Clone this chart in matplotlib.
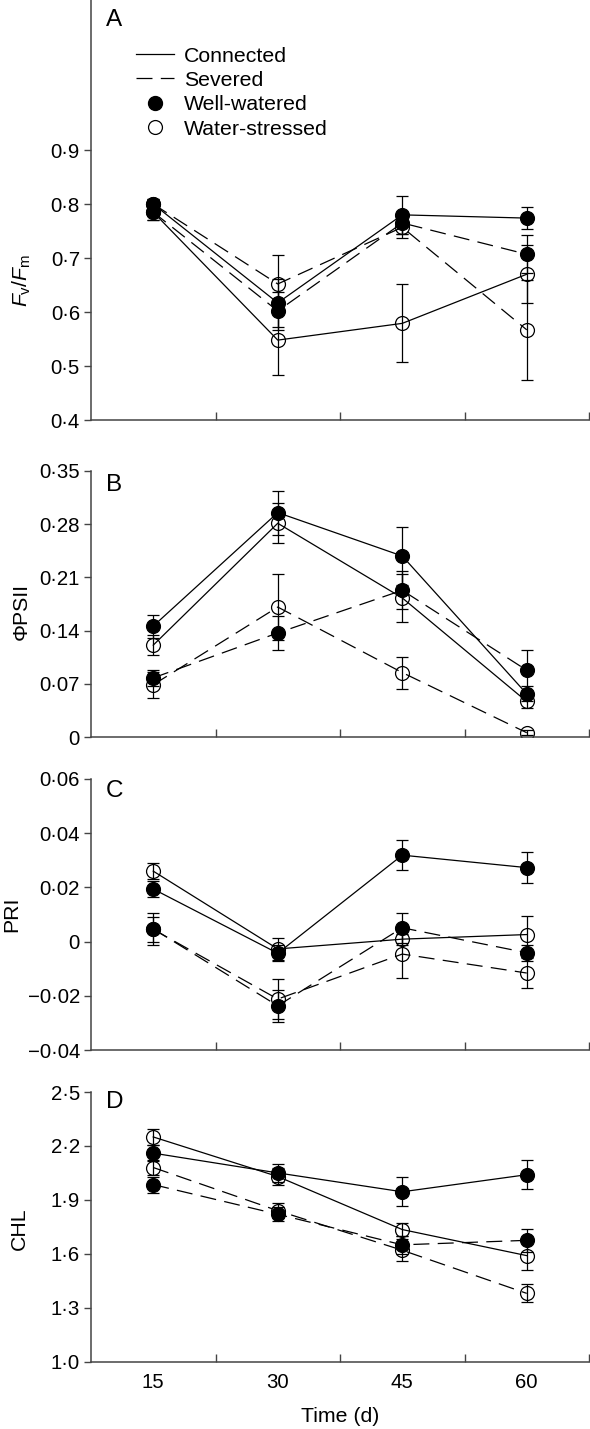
import matplotlib
matplotlib.use('Agg')
import matplotlib.pyplot as plt
from matplotlib.lines import Line2D

plt.rcParams['font.family'] = ['Liberation Sans', 'DejaVu Sans']
plt.rcParams['mathtext.fontset'] = 'custom'
plt.rcParams['mathtext.rm'] = 'Liberation Sans'
plt.rcParams['mathtext.it'] = 'Liberation Sans:italic'
plt.rcParams['lines.scale_dashes'] = False

days = [15, 30, 45, 60]

# panel A: Fv/Fm
fv_cw = [0.800, 0.617, 0.780, 0.774]
fv_cw_err = [0.010, 0.045, 0.035, 0.020]
fv_cs = [0.785, 0.548, 0.579, 0.670]
fv_cs_err = [0.015, 0.065, 0.072, 0.054]
fv_sw = [0.785, 0.602, 0.765, 0.707]
fv_sw_err = [0.015, 0.035, 0.020, 0.035]
fv_ss = [0.800, 0.652, 0.757, 0.567]
fv_ss_err = [0.010, 0.053, 0.020, 0.092]

# panel B: PhiPSII
ps_cw = [0.146, 0.295, 0.238, 0.057]
ps_cw_err = [0.015, 0.029, 0.038, 0.010]
ps_cs = [0.121, 0.281, 0.183, 0.047]
ps_cs_err = [0.013, 0.026, 0.032, 0.008]
ps_sw = [0.078, 0.137, 0.193, 0.088]
ps_sw_err = [0.010, 0.022, 0.025, 0.027]
ps_ss = [0.069, 0.171, 0.085, 0.006]
ps_ss_err = [0.017, 0.043, 0.021, 0.003]

# panel C: PRI
pri_cw = [0.0194, -0.0043, 0.0319, 0.0273]
pri_cw_err = [0.003, 0.003, 0.0055, 0.0057]
pri_cs = [0.026, -0.0027, 0.0009, 0.0026]
pri_cs_err = [0.003, 0.004, 0.002, 0.0067]
pri_sw = [0.0047, -0.0237, 0.0051, -0.0041]
pri_sw_err = [0.0059, 0.006, 0.0056, 0.003]
pri_ss = [0.0045, -0.0212, -0.0046, -0.0116]
pri_ss_err = [0.0045, 0.0074, 0.009, 0.0057]

# panel D: CHL
chl_cw = [2.16, 2.05, 1.945, 2.04]
chl_cw_err = [0.045, 0.05, 0.08, 0.08]
chl_cs = [2.25, 2.03, 1.735, 1.59]
chl_cs_err = [0.045, 0.05, 0.035, 0.08]
chl_sw = [1.985, 1.82, 1.65, 1.675]
chl_sw_err = [0.045, 0.04, 0.05, 0.065]
chl_ss = [2.08, 1.84, 1.62, 1.38]
chl_ss_err = [0.04, 0.04, 0.06, 0.05]

yticks_a = [0.4, 0.5, 0.6, 0.7, 0.8, 0.9]
ylabels_a = ['0·4', '0·5', '0·6', '0·7', '0·8', '0·9']
yticks_b = [0, 0.07, 0.14, 0.21, 0.28, 0.35]
ylabels_b = ['0', '0·07', '0·14', '0·21', '0·28', '0·35']
yticks_c = [-0.04, -0.02, 0, 0.02, 0.04, 0.06]
ylabels_c = ['\u22120·04', '\u22120·02', '0', '0·02', '0·04', '0·06']
yticks_d = [1.0, 1.3, 1.6, 1.9, 2.2, 2.5]
ylabels_d = ['1·0', '1·3', '1·6', '1·9', '2·2', '2·5']

W, H = 590, 1429
fig = plt.figure(figsize=(W / 100, H / 100), dpi=100)

FS = 14.7      # tick labels
LFS = 15.3     # axis labels / legend
DASH = (11.5, 6)
spine_col = '#444444'


def make_ax(top, bottom, ylim, ticks, labels):
    ax = fig.add_axes([91 / W, 1 - bottom / H, 498 / W, (bottom - top) / H])
    ax.set_xlim(7.5, 67.5)
    ax.set_ylim(*ylim)
    for s in ['top', 'right']:
        ax.spines[s].set_visible(False)
    for s in ['left', 'bottom']:
        ax.spines[s].set_color(spine_col)
        ax.spines[s].set_linewidth(1.1)
    ax.set_yticks(ticks)
    ax.set_yticklabels(labels)
    ax.tick_params(axis='y', direction='out', length=5, width=1, colors=spine_col,
                   labelcolor='black', labelsize=FS, pad=3)
    ax.set_xticks(days)
    ax.set_xticks([22.5, 37.5, 52.5, 67.5], minor=True)
    ax.tick_params(axis='x', which='major', length=0, labelsize=FS, pad=8)
    ax.tick_params(axis='x', which='minor', direction='in', length=6, width=1,
                   colors=spine_col)
    ax.set_xticklabels([])
    return ax


def draw(ax, vals, errs, dashed, filled):
    kw = dict(color='black', lw=0.9, marker='o', ms=10, mew=0.9,
              mfc='black' if filled else 'none', mec='black',
              ecolor='black', elinewidth=0.9, capsize=4.3, capthick=0.9)
    eb = ax.errorbar(days, vals, yerr=errs, **kw)
    if dashed:
        eb.lines[0].set_dashes(DASH)
    return eb


ax_a = make_ax(0, 420, (0.4, 1.178), yticks_a, ylabels_a)
ax_b = make_ax(470.7, 737.3, (0, 0.35), yticks_b, ylabels_b)
ax_c = make_ax(779, 1050, (-0.04, 0.06), yticks_c, ylabels_c)
ax_d = make_ax(1092, 1361.7, (1.0, 2.5), yticks_d, ylabels_d)
ax_d.set_xticklabels([str(d) for d in days])

panels = [
    (ax_a, fv_cw, fv_cw_err, fv_cs, fv_cs_err, fv_sw, fv_sw_err, fv_ss, fv_ss_err),
    (ax_b, ps_cw, ps_cw_err, ps_cs, ps_cs_err, ps_sw, ps_sw_err, ps_ss, ps_ss_err),
    (ax_c, pri_cw, pri_cw_err, pri_cs, pri_cs_err, pri_sw, pri_sw_err, pri_ss, pri_ss_err),
    (ax_d, chl_cw, chl_cw_err, chl_cs, chl_cs_err, chl_sw, chl_sw_err, chl_ss, chl_ss_err),
]
for ax, cw, cwe, cs, cse, sw, swe, ss, sse in panels:
    draw(ax, ss, sse, True, False)
    draw(ax, sw, swe, True, True)
    draw(ax, cs, cse, False, False)
    draw(ax, cw, cwe, False, True)

# legend
handles = [
    Line2D([], [], color='black', lw=0.9),
    Line2D([], [], color='black', lw=0.9, dashes=DASH),
    Line2D([], [], ls='none', marker='o', ms=10, mfc='black', mec='black'),
    Line2D([], [], ls='none', marker='o', ms=10, mfc='none', mec='black', mew=0.9),
]
ax_a.legend(handles, ['Connected', 'Severed', 'Well-watered', 'Water-stressed'],
            loc='upper left', bbox_to_anchor=(0.09, 0.889), frameon=False,
            fontsize=LFS, handlelength=1.8, handletextpad=0.45, labelspacing=0.25,
            borderpad=0, borderaxespad=0)

# panel letters
for lab, y in [('A', 20), ('B', 484.5), ('C', 791), ('D', 1102)]:
    fig.text(106 / W, 1 - y / H, lab, fontsize=17.5, ha='left', va='center')

# y labels
fig.text(22 / W, 1 - 280 / H, r'$F_\mathrm{v}/F_\mathrm{m}$', fontsize=LFS,
         rotation=90, ha='center', va='center')
fig.text(21 / W, 1 - 611.5 / H, '\u03a6PSII', fontsize=LFS, rotation=90,
         ha='center', va='center')
fig.text(12 / W, 1 - 914 / H, 'PRI', fontsize=LFS, rotation=90,
         ha='center', va='center')
fig.text(19 / W, 1 - 1229 / H, 'CHL', fontsize=LFS, rotation=90,
         ha='center', va='center')
fig.text(340 / W, 1 - 1417 / H, 'Time (d)', fontsize=LFS, ha='center', va='center')

fig.savefig('out.png', dpi=100)
